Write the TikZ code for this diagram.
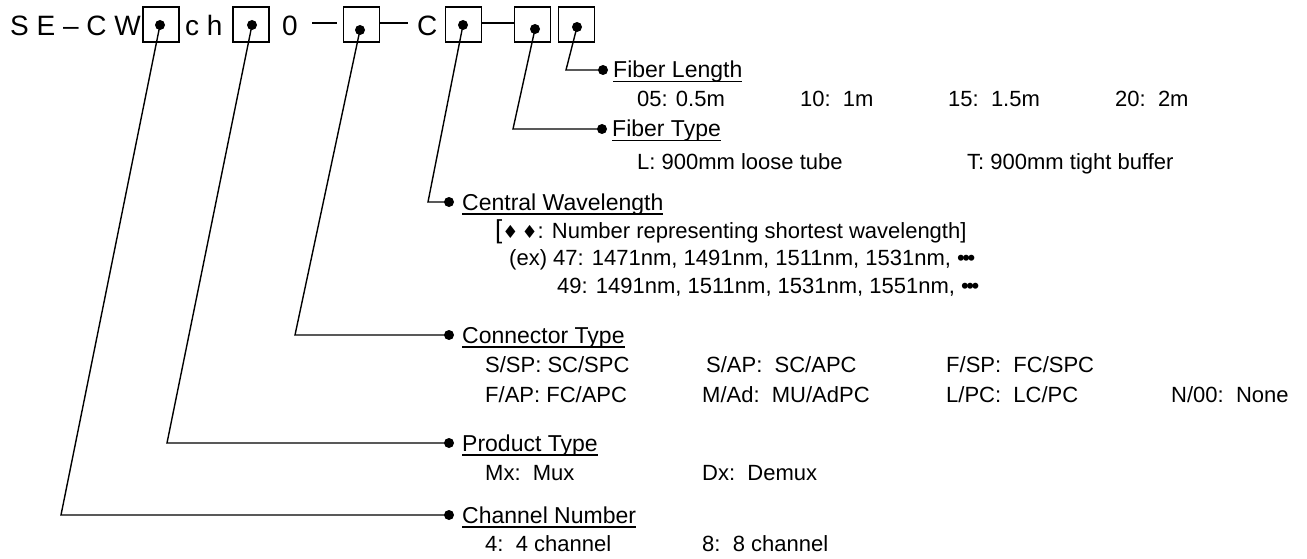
\documentclass[tikz,border=0pt]{standalone}
\usepackage{fontspec}
\setmainfont{Liberation Sans}
\newfontfamily\symfont{DejaVu Sans}
\usetikzlibrary{positioning}
\newcommand{\ulabel}[1]{\setbox0=\hbox{#1}\leavevmode\rlap{\raisebox{-4.5pt}{\rule{\wd0}{1.8pt}}}\box0}
\newcommand{\dotsmark}{{\fontsize{22}{22}\selectfont •\kern-2.5pt•\kern-2.5pt•}}
\begin{document}
\begin{tikzpicture}[x=1pt, y=-1pt,
    cbox/.style={draw, line width=1.4pt, minimum width=36pt, minimum height=35pt, inner sep=0pt},
    pin/.style={circle, fill, inner sep=0pt, minimum size=10pt},
    lead/.style={line width=1.4pt},
    code/.style={anchor=base west, inner sep=0pt, font=\fontsize{28}{28}\selectfont},
    head/.style={anchor=base west, inner sep=0pt, font=\fontsize{23}{23}\selectfont},
    item/.style={anchor=base west, inner sep=0pt, font=\fontsize{22}{22}\selectfont}]
  \useasboundingbox (0,0) rectangle (1307,559);
  % part number
  \node[code] (pre) at (10,36) {S E – C W};
  \node[code] (ch) at (185,36) {c h};
  \node[code] (zero) at (282,36) {0};
  \node[code] (cc) at (417,36) {C};
  \foreach \n/\x in {1/161,2/251,3/361.5,4/463.5,5/532.5,6/576.5}
    \node[cbox] (b\n) at (\x,24.5) {};
  \foreach \n/\x/\y in {1/160/25,2/252/25,3/360/30,4/463/25,5/535/29,6/577/27}
    \node[pin] (d\n) at (\x,\y) {};
  \draw[lead] (312,23) -- (337,23);
  \draw[lead] (b3.east |- 0,23) -- (408,23);
  \draw[lead] (b4.east |- 0,23) -- (b5.west |- 0,23);
  % leaders
  \coordinate (k1) at (61,515);
  \coordinate (k2) at (167,443);
  \coordinate (k3) at (295,335);
  \coordinate (k4) at (428,202);
  \coordinate (k5) at (513,129);
  \coordinate (k6) at (566,70);
  \node[pin] (e1) at (449,515) {};
  \node[pin] (e2) at (449,443) {};
  \node[pin] (e3) at (449,335) {};
  \node[pin] (e4) at (449,202) {};
  \node[pin] (e5) at (602,129) {};
  \node[pin] (e6) at (603,70) {};
  \foreach \n in {1,...,6}
    \draw[lead] (d\n.center) -- (k\n) -- (e\n.center);
  % Fiber Length
  \node[head] (fl) at (613,78) {\ulabel{Fiber Length}};
  \node[item] at (637,107) {05: 0.5m};
  \node[item] at (800,107) {10:\ \ 1m};
  \node[item] at (948,107) {15:\ \ 1.5m};
  \node[item] at (1115,107) {20:\ \ 2m};
  % Fiber Type
  \node[head] (ft) at (612,137) {\ulabel{Fiber Type}};
  \node[item] at (637,169) {L: 900mm loose tube};
  \node[item] at (967,169) {T: 900mm tight buffer};
  % Central Wavelength
  \node[head] (cw) at (462,210) {\ulabel{Central Wavelength}};
  \node[item] at (495,238) {{\fontsize{26}{26}\selectfont[}{\symfont\fontsize{18}{18}\selectfont ♦\,♦}: Number representing shortest wavelength]};
  \node[item] at (509,265) {(ex) 47: 1471nm, 1491nm, 1511nm, 1531nm, \dotsmark};
  \node[item] at (557,293) {49: 1491nm, 1511nm, 1531nm, 1551nm, \dotsmark};
  % Connector Type
  \node[head] (ct) at (462,343) {\ulabel{Connector Type}};
  \node[item] at (485,372) {S/SP: SC/SPC};
  \node[item] at (706,372) {S/AP:\ \ SC/APC};
  \node[item] at (946,372) {F/SP:\ \ FC/SPC};
  \node[item] at (485,402) {F/AP: FC/APC};
  \node[item] at (702,402) {M/Ad:\ \ MU/AdPC};
  \node[item] at (946,402) {L/PC:\ \ LC/PC};
  \node[item] at (1171,402) {N/00:\ \ None};
  % Product Type
  \node[head] (pt) at (462,451) {\ulabel{Product Type}};
  \node[item] at (485,480) {Mx:\ \ Mux};
  \node[item] at (702,480) {Dx:\ \ Demux};
  % Channel Number
  \node[head] (cn) at (462,523) {\ulabel{Channel Number}};
  \node[item] at (485,551) {4:\ \ 4 channel};
  \node[item] at (702,551) {8:\ \ 8 channel};
\end{tikzpicture}
\end{document}
